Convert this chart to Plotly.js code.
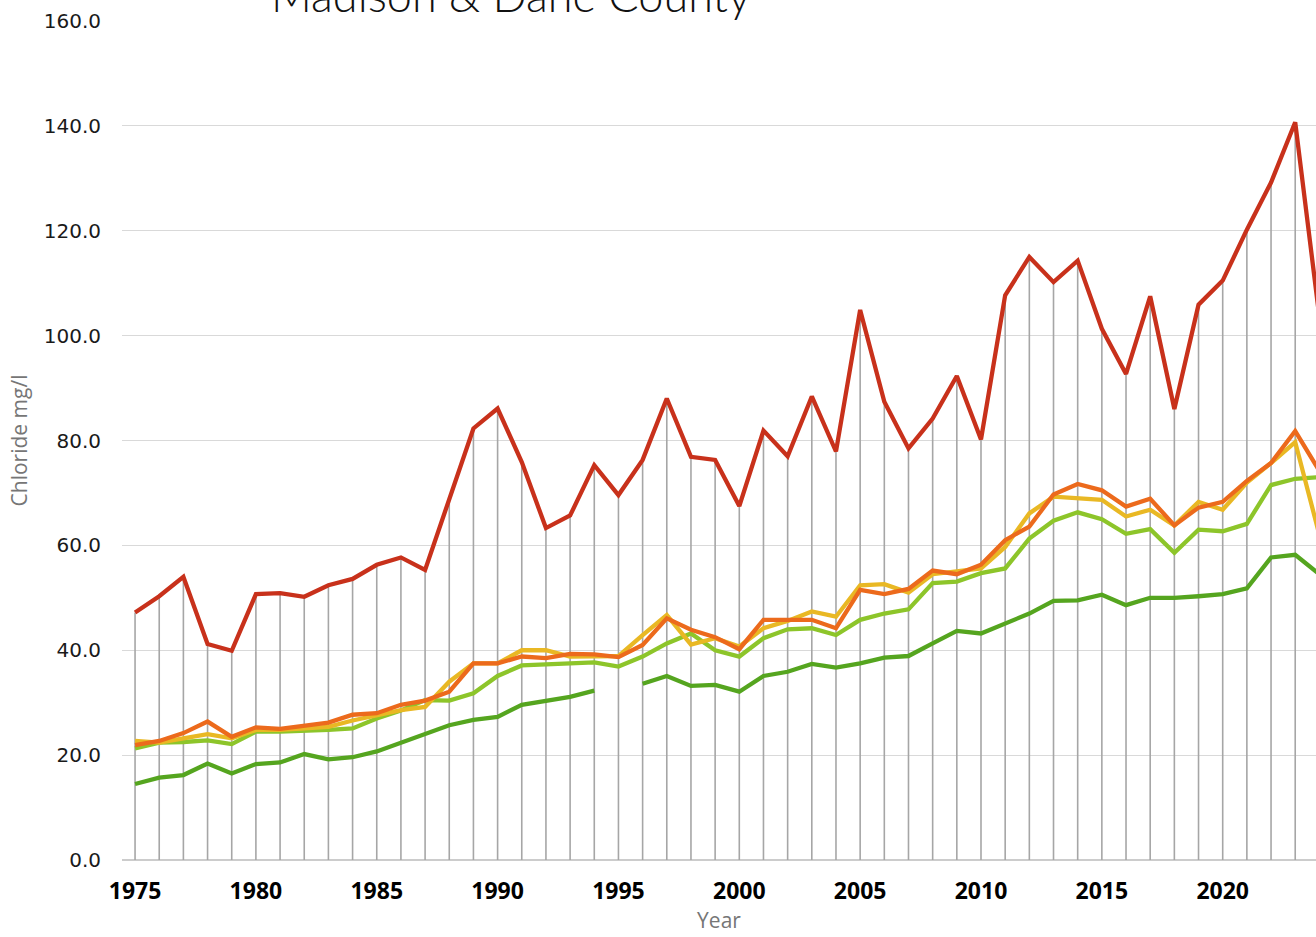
<!DOCTYPE html>
<html>
<head>
<meta charset="utf-8">
<script src="https://cdn.plot.ly/plotly-3.0.1.min.js"></script>
<style>html,body{margin:0;padding:0;background:#fff;}#chart{width:1316px;height:937px;}</style>
</head>
<body>
<div id="chart"></div>
<script>
const years = [1975,1976,1977,1978,1979,1980,1981,1982,1983,1984,1985,1986,1987,1988,1989,1990,1991,1992,1993,1994,1995,1996,1997,1998,1999,2000,2001,2002,2003,2004,2005,2006,2007,2008,2009,2010,2011,2012,2013,2014,2015,2016,2017,2018,2019,2020,2021,2022,2023,2024];

const seriesRed = [47.2,50.3,54.0,41.2,39.9,50.7,50.9,50.2,52.4,53.6,56.3,57.7,55.3,69.0,82.3,86.1,75.9,63.3,65.7,75.3,69.6,76.3,88.0,76.9,76.3,67.5,81.9,77.0,88.4,77.9,104.9,87.4,78.5,84.2,92.3,80.2,107.7,115.0,110.2,114.3,101.3,92.7,107.5,86.0,105.9,110.5,120.2,129.2,140.7,103.5];

const seriesOrange = [21.9,22.7,24.2,26.4,23.5,25.3,25.0,25.7,26.2,27.7,28.0,29.6,30.4,32.1,37.5,37.5,38.8,38.5,39.3,39.2,38.7,41.0,46.1,43.9,42.5,40.2,45.8,45.8,45.8,44.2,51.5,50.7,51.7,55.2,54.5,56.3,61.0,63.6,69.7,71.7,70.5,67.4,68.9,63.8,67.2,68.3,72.3,75.7,81.8,74.2];

const seriesYellow = [22.7,22.4,23.2,24.0,23.2,24.8,24.8,25.2,25.4,26.6,27.6,28.6,29.2,34.0,37.5,37.5,40.0,40.0,38.8,38.9,38.9,42.9,46.7,41.1,42.3,40.7,44.2,45.6,47.4,46.4,52.4,52.6,51.0,54.5,55.0,55.6,59.7,66.1,69.3,69.0,68.7,65.5,66.8,63.8,68.3,66.8,72.0,75.7,79.7,62.0];

const seriesLightGreen = [21.3,22.4,22.5,22.8,22.1,24.5,24.5,24.6,24.8,25.1,27.0,28.5,30.5,30.4,31.8,35.1,37.1,37.3,37.5,37.7,36.9,38.8,41.3,43.2,40.0,38.8,42.3,44.0,44.2,42.9,45.8,47.0,47.8,52.8,53.1,54.7,55.6,61.3,64.7,66.3,65.0,62.2,63.1,58.6,63.0,62.7,64.1,71.5,72.7,73.0];

const seriesDarkGreen = [14.5,15.7,16.2,18.4,16.5,18.3,18.6,20.2,19.2,19.6,20.7,22.4,24.2,25.7,26.7,27.3,29.6,30.4,31.1,32.3,null,33.6,35.1,33.2,33.4,32.1,35.1,35.9,37.4,36.7,37.5,38.6,38.9,41.3,43.7,43.2,45.0,47.0,49.4,49.5,50.6,48.6,50.0,50.0,50.3,50.7,51.8,57.7,58.2,54.5];

const chartTitle = 'Madison & Dane County';
const yTickVals = [0,20,40,60,80,100,120,140,160];
const yTickText = ["0.0","20.0","40.0","60.0","80.0","100.0","120.0","140.0","160.0"];
const xTickVals = [1975,1980,1985,1990,1995,2000,2005,2010,2015,2020];
const xTickText = ["1975","1980","1985","1990","1995","2000","2005","2010","2015","2020"];

// drop lines from the highest series value down to the axis
const dropX = [], dropY = [];
years.forEach((yr, i) => {
  const vals = [seriesRed[i], seriesOrange[i], seriesYellow[i], seriesLightGreen[i], seriesDarkGreen[i]].filter(v => v !== null);
  dropX.push(yr, yr, null);
  dropY.push(0, Math.max(...vals), null);
});

const line = (name, y, color) => ({
  type: 'scatter', mode: 'lines', name: name, x: years, y: y,
  line: {color: color, width: 4.3}, connectgaps: false
});

const traces = [
  {type:'scatter', mode:'lines', x: dropX, y: dropY, line:{color:'#a6a6a6', width:1.6}, showlegend:false, connectgaps:false},
  line('Dark green series', seriesDarkGreen, '#55a51f'),
  line('Light green series', seriesLightGreen, '#8dc52a'),
  line('Yellow series', seriesYellow, '#e9b824'),
  line('Orange series', seriesOrange, '#ec6a1c'),
  line('Red series', seriesRed, '#c8311b')
];

const layout = {
  width: 1316, height: 937,
  margin: {l:122, r:0, t:21, b:77},
  paper_bgcolor:'#fff', plot_bgcolor:'#fff',
  showlegend: false,
  hovermode: false,
  annotations: [{
    text: chartTitle, showarrow: false,
    xref: 'paper', yref: 'paper',
    x: 0.326, xanchor: 'center',
    y: 1.031, yanchor: 'middle',
    font: {family:'Lato', size:45, color:'#111', weight:300}
  }],
  xaxis: {
    range: [1974.46, 2023.86],
    tickvals: xTickVals, ticktext: xTickText,
    showgrid: false, zeroline: false, showline: false,
    ticks: '',
    tickfont: {family:'Open Sans', size:23, color:'#000', weight:700},
    ticklabelstandoff: 15,
    title: {text:'Year', font:{family:'Open Sans', size:21, color:'#767676'}, standoff: 5}
  },
  yaxis: {
    range: [0, 160],
    tickvals: yTickVals, ticktext: yTickText,
    showgrid: true, gridcolor:'#d9d9d9', gridwidth:1,
    zeroline: true, zerolinecolor:'#cccccc', zerolinewidth:1.5,
    showline: false, ticks:'',
    tickfont: {family:'DejaVu Sans', size:20, color:'#1a1a1a'},
    ticklabelstandoff: 20,
    title: {text:'Chloride mg/l', font:{family:'Open Sans', size:21, color:'#767676'}, standoff: 10}
  }
};

Plotly.newPlot('chart', traces, layout, {displayModeBar:false, staticPlot:true});
</script>
</body>
</html>
